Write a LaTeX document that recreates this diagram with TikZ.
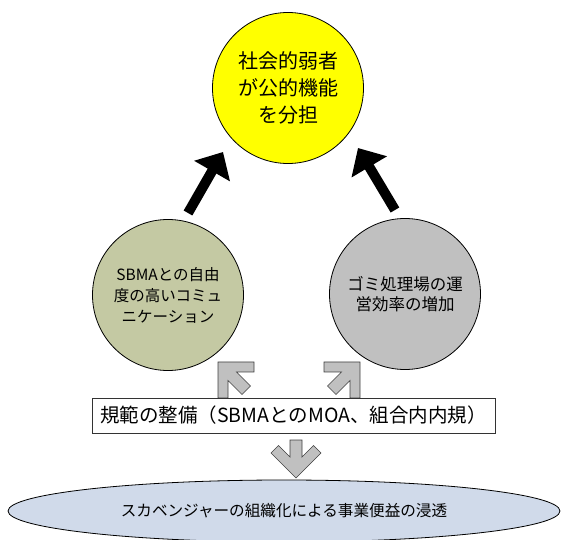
\documentclass[tikz,border=0pt]{standalone}
\usepackage{fontspec}
\newfontfamily\jp{Noto Sans CJK JP}
\usetikzlibrary{arrows.meta,calc,shapes.geometric}
\definecolor{ylw}{HTML}{FFFF00}
\definecolor{olivefill}{HTML}{C4C9A3}
\definecolor{grayfill}{HTML}{C0C0C0}
\definecolor{ellfill}{HTML}{D0DAEA}
\begin{document}
\begin{tikzpicture}[x=1pt,y=-1pt,
  bubble/.style={circle,draw=black,line width=0.8pt,minimum size=151pt,inner sep=0pt,align=center},
  bigarrow/.style={line width=10pt,-{Triangle[width=40pt,length=22pt]}},
  blockarrow/.style={fill=grayfill,draw=black!75,line width=0.7pt,line join=miter},
]
\useasboundingbox (0,0) rectangle (563,540);
% circles
\node[bubble,fill=ylw,font=\jp\fontsize{20}{27}\selectfont] (soc) at (288,88) {社会的弱者\\が公的機能\\を分担};
\node[bubble,fill=olivefill,font=\jp\fontsize{15.5}{21}\selectfont] (comm) at (168,295) {SBMAとの自由\\度の高いコミュ\\ニケーション};
\node[bubble,fill=grayfill,font=\jp\fontsize{16.5}{20.5}\selectfont] (eff) at (405,294) {ゴミ処理場の運\\営効率の増加};
% black arrows
\draw[bigarrow] ($(comm.center)+(20,-82)$) -- ($(soc.center)+(-65,64)$);
\draw[bigarrow] ($(eff.center)+(-10,-84)$) -- ($(soc.center)+(70,60)$);
% gray block arrows
\draw[blockarrow] (218,362) -- (254,362) -- (254,372) -- (236.5,372) -- (250.5,386) -- (242,394.5) -- (228,380.5) -- (228,398) -- (218,398) -- cycle;
\draw[blockarrow] (360,362) -- (324,362) -- (324,372) -- (341.5,372) -- (327.5,386) -- (336,394.5) -- (350,380.5) -- (350,398) -- (360,398) -- cycle;
% rule box
\node[draw=black!80,fill=white,line width=0.8pt,minimum width=403pt,minimum height=35pt,inner sep=0pt,font=\jp\fontsize{19.5}{22}\selectfont] (norm) at (293.5,415.5) {規範の整備（SBMAとのMOA、組合内内規）};
% down arrow
\draw[blockarrow] (290,440) -- (302,440) -- (302,457) -- (313.5,445.5) -- (321,453) -- (296,478) -- (271,453) -- (278.5,445.5) -- (290,457) -- cycle;
% ellipse
\node[ellipse,draw=black,line width=0.8pt,fill=ellfill,minimum width=552pt,minimum height=62pt,inner sep=0pt,font=\jp\fontsize{15.6}{18}\selectfont] (spread) at (284,511) {スカベンジャーの組織化による事業便益の浸透};
\end{tikzpicture}
\end{document}
